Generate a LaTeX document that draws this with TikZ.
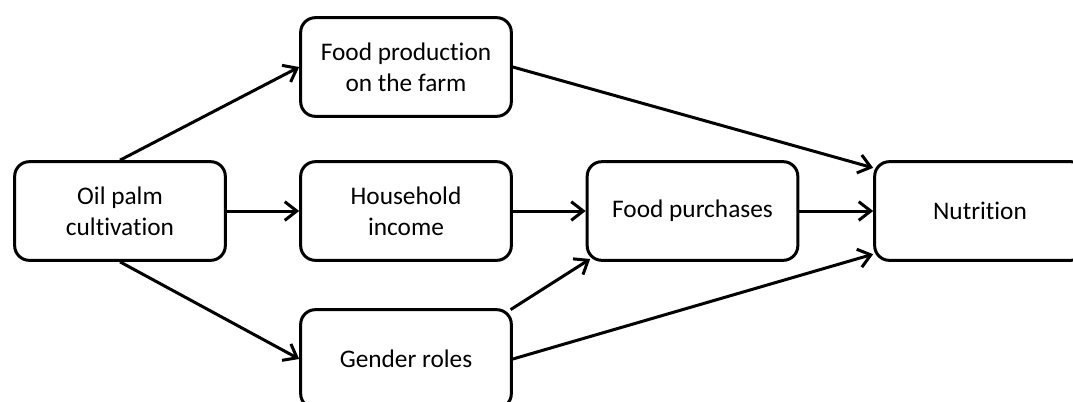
\documentclass[tikz,border=0pt]{standalone}
\usepackage{fontspec}
\setmainfont{Carlito}[Ligatures=NoCommon]
\usetikzlibrary{arrows.meta}

\begin{document}
\begin{tikzpicture}[x=0.75pt, y=-0.75pt,
		box/.style={draw, line width=2.25pt, rounded corners=11pt, align=center,
			minimum width=158pt, minimum height=74pt, inner sep=0pt,
			font=\fontsize{19}{23}\selectfont},
		link/.style={line width=2.25pt, -{Straight Barb[length=9pt, width=14pt]}}]
		%%%%% START %%%%%
		\useasboundingbox (0, 0) rectangle (1073, 401);
		
		\node[box] (palm) at (120, 211) {Oil palm\\cultivation};
		\node[box] (farm) at (406, 67) {Food production\\on the farm};
		\node[box] (income) at (406, 211) {Household\\income};
		\node[box] (gender) at (406, 359) {Gender roles};
		\node[box] (purch) at (692.5, 211) {Food purchases};
		\node[box] (nutr) at (980, 211) {Nutrition};
		
		\draw[link] (palm.north) -- (farm.west);
		\draw[link] (palm.east) -- (income.west);
		\draw[link] (palm.south) -- (gender.west);
		
		\draw[link] (income.east) -- (purch.west);
		\draw[link, shorten <=-2pt, shorten >=-4pt] (gender.north east) -- (purch.south west);
		
		\draw[link] (farm.east) -- (nutr.158);
		\draw[link] (purch.east) -- (nutr.west);
		\draw[link] (gender.east) -- (nutr.202);
		%%%%% END %%%%%
	\end{tikzpicture}
\end{document}
